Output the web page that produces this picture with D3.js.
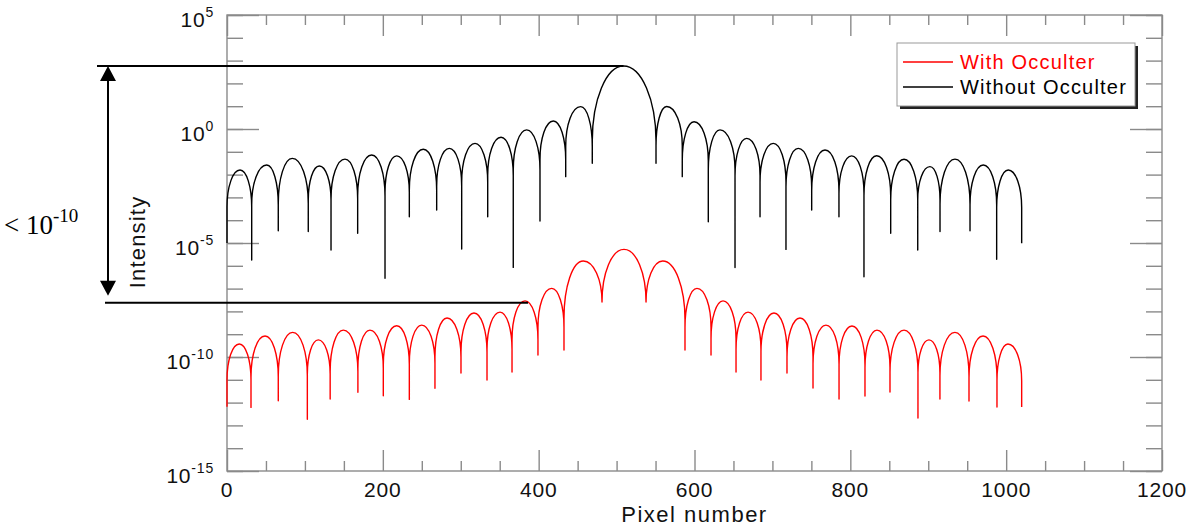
<!DOCTYPE html>
<html><head><meta charset="utf-8">
<script src="https://cdn.jsdelivr.net/npm/d3@7"></script>
<style>body{margin:0;background:#fff}svg{display:block}</style>
</head><body>
<svg id="c" width="1189" height="527"></svg>
<script>
// ---------- data (pixel number, log10 intensity) ----------
const seriesNames = ["With Occulter", "Without Occulter"];
const seriesColors = ["#ff0000", "#000000"];

// Without occulter: null positions / depths and lobe peaks
const blackNullX = [0, 31.7, 65.8, 104.3, 133.5, 167.7, 202.8, 234.0, 269.1, 301.2, 334.6, 367.4, 401.7, 434.7, 468.8, 550.6, 584.3, 617.7, 652.0, 684.1, 717.4, 750.4, 785.4, 817.5, 851.8, 886.5, 915.1, 953.6, 987.8, 1019.9];
const blackNullLog = [-5.0, -5.75, -4.46, -4.50, -5.31, -4.57, -6.55, -3.85, -3.55, -5.26, -3.85, -6.07, -4.04, -2.09, -1.50, -1.50, -2.09, -4.07, -6.08, -3.85, -5.28, -3.55, -3.85, -6.48, -4.57, -5.31, -4.50, -4.46, -5.71, -5.01];
const blackPeakX = [16.7, 51.0, 83.8, 118.5, 151.4, 185.7, 217.8, 251.9, 285.3, 318.3, 351.7, 384.6, 418.8, 453.9, 508.9, 564.3, 599.4, 632.7, 667.0, 701.1, 733.2, 767.5, 801.7, 833.8, 868.9, 902.2, 934.3, 970.6, 1002.7];
const blackPeakLog = [-1.80, -1.58, -1.29, -1.62, -1.32, -1.14, -1.18, -0.89, -0.85, -0.63, -0.36, -0.04, 0.35, 0.98, 2.76, 0.99, 0.32, -0.04, -0.41, -0.63, -0.85, -0.92, -1.18, -1.17, -1.33, -1.65, -1.32, -1.58, -1.80];

// With occulter
const redNullX = [0, 30.8, 65.8, 103.1, 132.4, 168.0, 200.6, 234.0, 266.9, 300.3, 333.7, 365.8, 399.1, 432.5, 481.3, 537.8, 587.8, 621.2, 653.3, 685.3, 718.7, 752.1, 785.5, 818.8, 850.9, 886.8, 915.0, 952.3, 988.2, 1019.9];
const redNullLog = [-12.18, -12.21, -11.92, -12.73, -11.84, -11.55, -11.70, -11.86, -11.37, -10.70, -11.01, -10.66, -9.91, -9.69, -7.59, -7.59, -9.69, -9.91, -10.66, -11.01, -10.70, -11.36, -11.84, -11.71, -11.54, -12.68, -11.84, -11.93, -12.19, -12.19];
const redPeakX = [15.8, 48.8, 84.3, 117.2, 149.3, 183.5, 217.8, 249.9, 282.4, 317.0, 350.4, 382.5, 416.7, 457.3, 509.5, 559.2, 603.2, 636.6, 668.7, 702.0, 735.4, 768.7, 802.1, 834.2, 868.9, 900.9, 934.3, 970.3, 1002.3];
const redPeakLog = [-9.43, -9.08, -8.92, -9.25, -8.82, -8.82, -8.63, -8.60, -8.29, -8.07, -8.03, -7.54, -6.99, -5.79, -5.28, -5.79, -6.99, -7.54, -8.03, -8.07, -8.29, -8.60, -8.64, -8.82, -8.82, -9.25, -8.92, -9.08, -9.43];

const xTicksMajor = [0, 200, 400, 600, 800, 1000, 1200];
const xTicksMinor = [50, 100, 150, 250, 300, 350, 450, 500, 550, 650, 700, 750, 850, 900, 950, 1050, 1100, 1150];
const yTickExpMajor = [5, 0, -5, -10, -15];
const yTickExpMinor = d3.range(-15, 6);

// contrast annotation: top level at black peak, bottom level at red lobe
const annotX = [508.9, 386.3];     // data x where the lines end
const annotLog = [2.76, -7.62];    // log10 levels
const annotText = ["< 10", "-10"];

// ---------- layout ----------
const svg = d3.select("#c");
const L = 227, R = 1162, T = 15, B = 471;
const x = d3.scaleLinear().domain([0, 1200]).range([L, R]);
const y = d3.scaleLog().domain([1e-15, 1e5]).range([B, T]);
const gray = "#8a8a8a";
const font = "'Liberation Sans', Arial, Helvetica, sans-serif";

// axes (box with mirrored ticks)
const gB = svg.append("g").attr("transform", `translate(0,${B})`)
  .call(d3.axisBottom(x).tickValues(xTicksMajor).tickSize(-21).tickFormat(""));
const gB2 = svg.append("g").attr("transform", `translate(0,${B})`)
  .call(d3.axisBottom(x).tickValues(xTicksMinor).tickSize(-10).tickFormat(""));
const gT = svg.append("g").attr("transform", `translate(0,${T})`)
  .call(d3.axisTop(x).tickValues(xTicksMajor).tickSize(-21).tickFormat(""));
const gT2 = svg.append("g").attr("transform", `translate(0,${T})`)
  .call(d3.axisTop(x).tickValues(xTicksMinor).tickSize(-10).tickFormat(""));
const gL = svg.append("g").attr("transform", `translate(${L},0)`)
  .call(d3.axisLeft(y).tickValues(yTickExpMajor.map(e => Math.pow(10, e))).tickSize(-32).tickFormat(""));
const gL2 = svg.append("g").attr("transform", `translate(${L},0)`)
  .call(d3.axisLeft(y).tickValues(yTickExpMinor.map(e => Math.pow(10, e))).tickSize(-16).tickFormat(""));
const gR = svg.append("g").attr("transform", `translate(${R},0)`)
  .call(d3.axisRight(y).tickValues(yTickExpMajor.map(e => Math.pow(10, e))).tickSize(-32).tickFormat(""));
const gR2 = svg.append("g").attr("transform", `translate(${R},0)`)
  .call(d3.axisRight(y).tickValues(yTickExpMinor.map(e => Math.pow(10, e))).tickSize(-16).tickFormat(""));
[gB, gB2, gT, gT2, gL, gL2, gR, gR2].forEach(g => {
  g.select(".domain").remove();
  g.selectAll("line").attr("stroke", gray).attr("stroke-width", 1.4);
});
svg.append("rect").attr("x", L).attr("y", T).attr("width", R - L).attr("height", B - T)
  .attr("fill", "none").attr("stroke", gray).attr("stroke-width", 1.4);

// tick labels
svg.append("g").selectAll("text").data(xTicksMajor).join("text")
  .attr("x", d => x(d)).attr("y", B + 26).attr("text-anchor", "middle")
  .attr("font-family", font).attr("font-size", 21).attr("letter-spacing", 0.8).attr("fill", "#111")
  .text(d => d);
const yl = svg.append("g").selectAll("text").data(yTickExpMajor).join("text")
  .attr("x", L - 13).attr("y", d => y(Math.pow(10, d)) + 12.3).attr("text-anchor", "end")
  .attr("font-family", font).attr("font-size", 21).attr("letter-spacing", 0.8).attr("fill", "#111");
yl.append("tspan").text("10");
yl.append("tspan").attr("font-size", 14).attr("dy", -10.5).text(d => d);

// axis titles
svg.append("text").attr("x", (L + R) / 2).attr("y", 522).attr("text-anchor", "middle")
  .attr("font-family", font).attr("font-size", 22).attr("letter-spacing", 1.5).attr("fill", "#111")
  .text("Pixel number");
svg.append("text").attr("transform", "translate(145,242) rotate(-90)").attr("text-anchor", "middle")
  .attr("font-family", font).attr("font-size", 22).attr("letter-spacing", 1.2).attr("fill", "#111")
  .text("Intensity");

// ---------- curves ----------
const ARCH = 1.5, ARCH_MAX = 75;
function lobePath(nx, nl, px, pl) {
  let s = "";
  for (let i = 0; i < px.length; i++) {
    const x0 = x(nx[i]), x1 = x(nx[i + 1]), xp = x(px[i]);
    const yp = y(Math.pow(10, pl[i]));
    const y0 = y(Math.pow(10, nl[i])), y1 = y(Math.pow(10, nl[i + 1]));
    const h = Math.min((x1 - x0) * ARCH, ARCH_MAX);
    const b0 = Math.min(y0, yp + h), b1 = Math.min(y1, yp + h);
    if (i === 0) s += `M${x0},${y0}`;
    s += `L${x0},${b0}`;
    s += `A${xp - x0},${b0 - yp} 0 0 1 ${xp},${yp}`;
    s += `A${x1 - xp},${b1 - yp} 0 0 1 ${x1},${b1}`;
    s += `L${x1},${y1}`;
  }
  return s;
}
const curves = [
  {nx: redNullX, nl: redNullLog, px: redPeakX, pl: redPeakLog, c: seriesColors[0]},
  {nx: blackNullX, nl: blackNullLog, px: blackPeakX, pl: blackPeakLog, c: seriesColors[1]}
];
svg.append("g").selectAll("path").data(curves).join("path")
  .attr("d", d => lobePath(d.nx, d.nl, d.px, d.pl))
  .attr("fill", "none").attr("stroke", d => d.c).attr("stroke-width", 1.4)
  .attr("stroke-linejoin", "round");

// ---------- legend ----------
const lg = svg.append("g");
lg.append("rect").attr("x", 900).attr("y", 46).attr("width", 238).attr("height", 63).attr("fill", "#222");
lg.append("rect").attr("x", 897).attr("y", 43).attr("width", 238).attr("height", 63)
  .attr("fill", "#fff").attr("stroke", "#999").attr("stroke-width", 1);
seriesNames.forEach((n, i) => {
  const yy = 62 + i * 25;
  lg.append("line").attr("x1", 903).attr("x2", 953).attr("y1", yy).attr("y2", yy)
    .attr("stroke", seriesColors[i]).attr("stroke-width", 1.3);
  lg.append("text").attr("x", 960).attr("y", yy + 7).attr("font-family", font).attr("font-size", 20)
    .attr("letter-spacing", 1.2).attr("fill", seriesColors[i]).text(n);
});

// ---------- contrast annotation ----------
const an = svg.append("g");
const yTop = y(Math.pow(10, annotLog[0])), yBot = y(Math.pow(10, annotLog[1]));
an.append("line").attr("x1", 97).attr("x2", x(annotX[0])).attr("y1", yTop).attr("y2", yTop)
  .attr("stroke", "#000").attr("stroke-width", 2);
an.append("line").attr("x1", 105).attr("x2", x(annotX[1])).attr("y1", yBot).attr("y2", yBot)
  .attr("stroke", "#000").attr("stroke-width", 2);
an.append("line").attr("x1", 108).attr("x2", 108).attr("y1", yTop + 8).attr("y2", yBot - 12)
  .attr("stroke", "#000").attr("stroke-width", 2);
an.append("path").attr("d", `M108,${yTop}L116,${yTop + 15}L100,${yTop + 15}Z`).attr("fill", "#000");
an.append("path").attr("d", `M108,${yBot - 7}L116,${yBot - 22}L100,${yBot - 22}Z`).attr("fill", "#000");
const at = an.append("text").attr("x", 4).attr("y", 234).attr("font-family", "'Liberation Serif', 'Times New Roman', serif")
  .attr("font-size", 27).attr("fill", "#000");
at.append("tspan").text(annotText[0]);
at.append("tspan").attr("font-size", 19).attr("dy", -12).text(annotText[1]);
</script>
</body></html>
